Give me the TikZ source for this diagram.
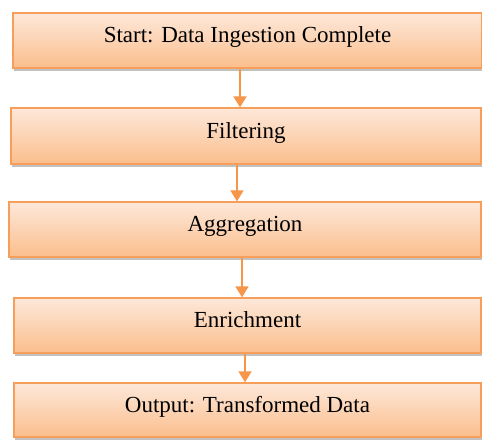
\documentclass[tikz,border=0pt]{standalone}
\usepackage{fontspec}
\setmainfont{Liberation Serif}
\usetikzlibrary{arrows.meta,shadows}
\definecolor{boxborder}{RGB}{247,158,90}
\definecolor{boxtop}{RGB}{253,232,218}
\definecolor{boxbottom}{RGB}{251,190,140}
\definecolor{arrowcol}{RGB}{246,150,75}
\begin{document}
\begin{tikzpicture}[x=1pt,y=-1pt,
  stagebox/.style={draw=boxborder, line width=1.3pt, top color=boxtop, bottom color=boxbottom,
    minimum height=55pt, inner sep=0pt, text height=10pt, text depth=6pt,
    font=\fontsize{23}{27}\selectfont, text=black,
    drop shadow={shadow xshift=0.5pt, shadow yshift=-3pt, opacity=0.4, fill=black!60}},
  flowarrow/.style={draw=arrowcol, line width=1.6pt, -{Triangle[width=13pt,length=11pt]}}]
\useasboundingbox (0,0) rectangle (482,440);
\fill[white] (0,0) rectangle (482,440);
\node[stagebox, minimum width=469pt, minimum height=55pt] (b1) at (247.5,40.5) {Start: Data Ingestion Complete};
\node[stagebox, minimum width=470pt, minimum height=56pt] (b2) at (246,136) {Filtering};
\node[stagebox, minimum width=472pt, minimum height=55pt] (b3) at (245,229.5) {Aggregation};
\node[stagebox, minimum width=467pt, minimum height=55pt] (b4) at (247.5,325.5) {Enrichment};
\node[stagebox, minimum width=467pt, minimum height=54pt] (b5) at (247.5,410) {Output: Transformed Data};
\draw[flowarrow] (b1.south -| 240,0) -- (b2.north -| 240,0);
\draw[flowarrow] (b2.south -| 237,0) -- (b3.north -| 237,0);
\draw[flowarrow] (b3.south -| 242,0) -- (b4.north -| 242,0);
\draw[flowarrow] (b4.south -| 245,0) -- (b5.north -| 245,0);
\end{tikzpicture}
\end{document}
